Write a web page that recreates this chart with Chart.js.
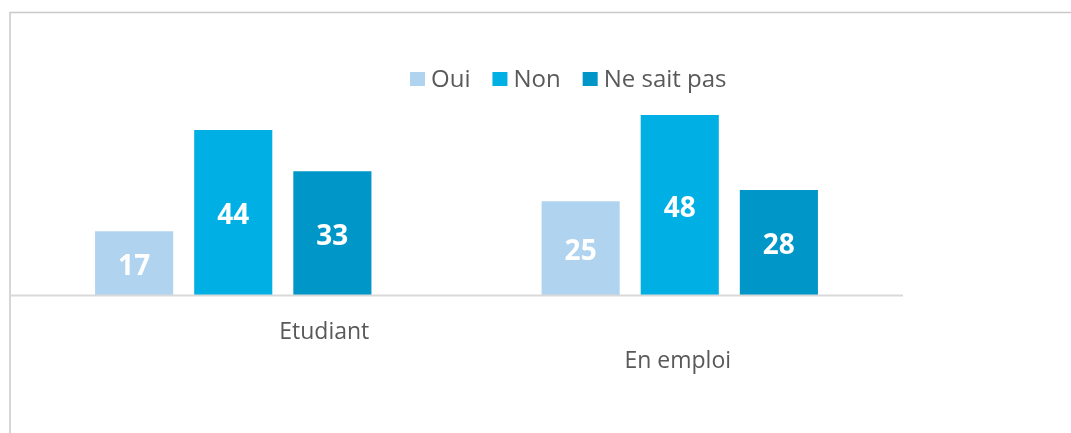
<!DOCTYPE html>
<html>
<head>
<meta charset="utf-8">
<script src="https://cdn.jsdelivr.net/npm/chart.js@4/dist/chart.umd.min.js"></script>
<style>
  html, body { margin: 0; padding: 0; background: #ffffff; }
  #wrap { width: 1071px; height: 433px; position: relative; }
</style>
</head>
<body>
<div id="wrap"><canvas id="c" width="1071" height="433"></canvas></div>
<script>
// ---- data ----
const categories = ["Etudiant", "En emploi"];
const seriesNames = ["Oui", "Non", "Ne sait pas"];
const ouiValues = [17, 25];
const nonValues = [44, 48];
const nspValues = [33, 28];

// ---- styles ----
const colors = ["#B0D3EF", "#00B0E5", "#0096C7"];
const textColor = "#595959";
const fontFamily = "'Open Sans', 'Noto Sans', sans-serif";
const catLabelOffsets = [{dx: 91, dy: 37}, {dx: -2, dy: 66}];

const decorPlugin = {
  id: 'decor',
  beforeDraw(chart) {
    const ctx = chart.ctx;
    ctx.save();
    ctx.strokeStyle = '#C9C9C9';
    ctx.lineWidth = 1.5;
    ctx.beginPath();
    ctx.moveTo(10, 433);
    ctx.lineTo(10, 12.5);
    ctx.lineTo(1071, 12.5);
    ctx.stroke();
    ctx.restore();
  },
  afterDatasetsDraw(chart) {
    const ctx = chart.ctx;
    const xs = chart.scales.x, ys = chart.scales.y;
    const base = ys.getPixelForValue(0);
    ctx.save();
    // baseline
    ctx.strokeStyle = '#D9D9D9';
    ctx.lineWidth = 2;
    ctx.beginPath();
    ctx.moveTo(chart.chartArea.left, base + 0.5);
    ctx.lineTo(chart.chartArea.right, base + 0.5);
    ctx.stroke();
    // value labels
    ctx.fillStyle = '#ffffff';
    ctx.font = "bold 28px " + fontFamily;
    ctx.textAlign = 'center';
    ctx.textBaseline = 'middle';
    chart.data.datasets.forEach((ds, i) => {
      const meta = chart.getDatasetMeta(i);
      meta.data.forEach((bar, j) => {
        const p = bar.getProps(['x', 'y', 'base'], true);
        ctx.fillText(String(ds.data[j]), p.x, (p.y + p.base) / 2 + 4);
      });
    });
    // category labels (staggered)
    ctx.fillStyle = textColor;
    ctx.font = "23px " + fontFamily;
    categories.forEach((c, i) => {
      const off = catLabelOffsets[i];
      ctx.fillText(c, xs.getPixelForValue(i) + off.dx, base + off.dy);
    });
    // legend
    ctx.font = "24px " + fontFamily;
    ctx.textAlign = 'left';
    let x = 410;
    const y = 79;
    chart.data.datasets.forEach((ds) => {
      ctx.fillStyle = ds.backgroundColor;
      ctx.fillRect(x, y - 7, 15, 14);
      ctx.fillStyle = textColor;
      ctx.fillText(ds.label, x + 21, y + 1);
      x += 21 + ctx.measureText(ds.label).width + 22;
    });
    ctx.restore();
  }
};

new Chart(document.getElementById('c'), {
  type: 'bar',
  data: {
    labels: categories,
    datasets: [
      { label: seriesNames[0], data: ouiValues, backgroundColor: colors[0] },
      { label: seriesNames[1], data: nonValues, backgroundColor: colors[1] },
      { label: seriesNames[2], data: nspValues, backgroundColor: colors[2] }
    ]
  },
  options: {
    responsive: false,
    animation: false,
    devicePixelRatio: 1,
    layout: { padding: { left: 10, right: 168, top: 70, bottom: 138 } },
    categoryPercentage: 0.666,
    barPercentage: 0.788,
    plugins: { legend: { display: false }, tooltip: { enabled: false } },
    scales: {
      x: { display: false },
      y: { display: false, min: 0, max: 60 }
    }
  },
  plugins: [decorPlugin]
});
</script>
</body>
</html>
